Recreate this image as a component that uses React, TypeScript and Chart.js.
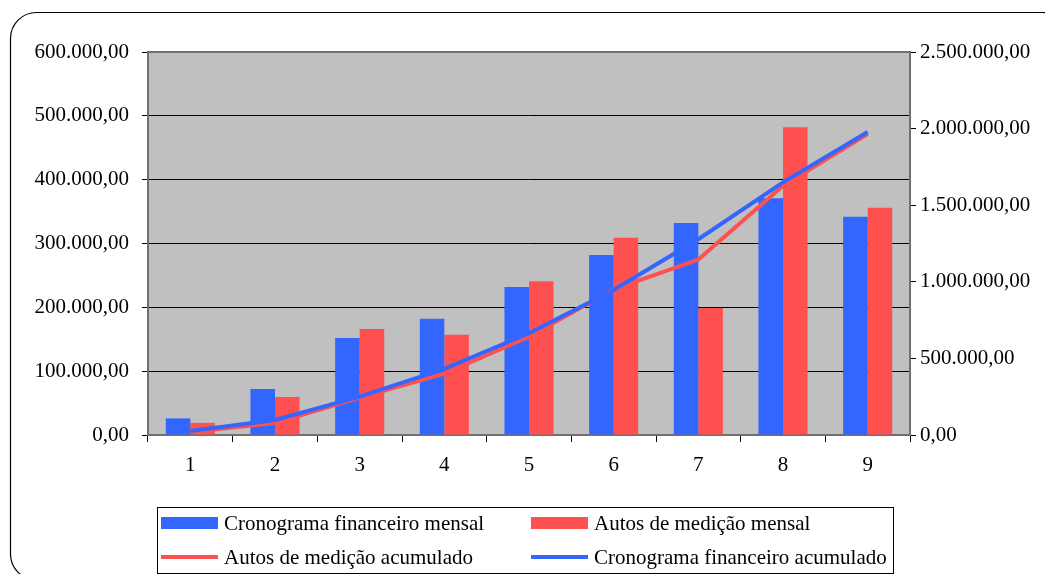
import React, { useEffect, useRef } from "react";
import { Chart, registerables } from "chart.js";

Chart.register(...registerables);

const categories = ["1", "2", "3", "4", "5", "6", "7", "8", "9"];
const cronogramaMensal = [26000, 72000, 152000, 182000, 232000, 282000, 332000, 371000, 342000];
const autosMensal = [19000, 59500, 166000, 157000, 241000, 309000, 199000, 482000, 356000];
const autosAcumulado = [19000, 78000, 244000, 401000, 642000, 951000, 1145000, 1627000, 1965000];
const cronogramaAcumulado = [26000, 98000, 250000, 432000, 664000, 946000, 1278000, 1649000, 1978000];

const labelsLegend = [
  "Cronograma financeiro mensal",
  "Autos de medição mensal",
  "Autos de medição acumulado",
  "Cronograma financeiro acumulado",
];

const BLUE = "#3366FF";
const RED = "#FF5050";
const FONT = "'Liberation Serif', 'Times New Roman', serif";
const FS = 21;

function fmt(v: number): string {
  const n = Math.round(v);
  const s = String(n).replace(/\B(?=(\d{3})+(?!\d))/g, ".");
  return s + ",00";
}

const framePlugin = {
  id: "frame",
  beforeDraw(chart: any) {
    const { ctx, chartArea: a } = chart;
    ctx.save();
    ctx.strokeStyle = "#000";
    ctx.lineWidth = 1.2;
    const x0 = 10.5, y0 = 12.5, x1 = 1068, y1 = 580, r = 26;
    ctx.beginPath();
    ctx.moveTo(x0 + r, y0);
    ctx.lineTo(x1 - r, y0);
    ctx.arcTo(x1, y0, x1, y0 + r, r);
    ctx.lineTo(x1, y1 - r);
    ctx.arcTo(x1, y1, x1 - r, y1, r);
    ctx.lineTo(x0 + r, y1);
    ctx.arcTo(x0, y1, x0, y1 - r, r);
    ctx.lineTo(x0, y0 + r);
    ctx.arcTo(x0, y0, x0 + r, y0, r);
    ctx.closePath();
    ctx.stroke();
    ctx.fillStyle = "#C0C0C0";
    ctx.fillRect(a.left, a.top, a.right - a.left, a.bottom - a.top);
    ctx.restore();
  },
  beforeDatasetsDraw(chart: any) {
    const { ctx, chartArea: a } = chart;
    ctx.save();
    ctx.strokeStyle = "#707070";
    ctx.lineWidth = 2;
    ctx.strokeRect(a.left, a.top, a.right - a.left, a.bottom - a.top);
    ctx.restore();
  },
  afterDraw(chart: any) {
    const { ctx } = chart;
    const ds = chart.data.datasets;
    ctx.save();
    ctx.strokeStyle = "#000";
    ctx.lineWidth = 1;
    ctx.strokeRect(157.5, 507.5, 736, 66);
    ctx.font = FS + "px " + FONT;
    ctx.textBaseline = "middle";
    ctx.textAlign = "left";
    const cols = [161, 531];
    const rows = [523, 557];
    [0, 1, 2, 3].forEach((di, k) => {
      const d = ds[di];
      const mx = cols[k % 2];
      const my = rows[Math.floor(k / 2)];
      if (d.type === "bar") {
        ctx.fillStyle = d.backgroundColor;
        ctx.fillRect(mx, my - 6, 57, 12);
      } else {
        ctx.strokeStyle = d.borderColor;
        ctx.lineWidth = 4;
        ctx.beginPath();
        ctx.moveTo(mx, my);
        ctx.lineTo(mx + 57, my);
        ctx.stroke();
      }
      ctx.fillStyle = "#000";
      ctx.fillText(d.label, mx + 63, my + 1);
    });
    ctx.restore();
  },
};

export default function App() {
  const ref = useRef<HTMLCanvasElement | null>(null);
  useEffect(() => {
    if (!ref.current) return;
    const chart = new Chart(ref.current, {
      type: "bar",
      data: {
        labels: categories,
        datasets: [
          {
            type: "bar",
            label: labelsLegend[0],
            data: cronogramaMensal,
            backgroundColor: BLUE,
            yAxisID: "y",
            order: 3,
            barPercentage: 1,
            categoryPercentage: 0.58,
          },
          {
            type: "bar",
            label: labelsLegend[1],
            data: autosMensal,
            backgroundColor: RED,
            yAxisID: "y",
            order: 3,
            barPercentage: 1,
            categoryPercentage: 0.58,
          },
          {
            type: "line",
            label: labelsLegend[2],
            data: autosAcumulado,
            borderColor: RED,
            backgroundColor: RED,
            borderWidth: 4,
            pointRadius: 0,
            tension: 0,
            yAxisID: "y1",
            order: 2,
          },
          {
            type: "line",
            label: labelsLegend[3],
            data: cronogramaAcumulado,
            borderColor: BLUE,
            backgroundColor: BLUE,
            borderWidth: 4,
            pointRadius: 0,
            tension: 0,
            yAxisID: "y1",
            order: 1,
          },
        ],
      } as any,
      options: {
        animation: false,
        responsive: false,
        maintainAspectRatio: false,
        layout: { padding: { top: 52, left: 0, right: 0, bottom: 0 } },
        plugins: {
          legend: { display: false },
          tooltip: { enabled: false },
          title: { display: false },
        },
        scales: {
          x: {
            position: "bottom",
            offset: true,
            grid: {
              offset: true,
              drawOnChartArea: false,
              drawTicks: true,
              tickLength: 7,
              color: "#000",
            },
            border: { display: true, color: "#505050", width: 2 },
            ticks: {
              color: "#000",
              font: { family: FONT, size: FS },
              padding: 11,
              maxRotation: 0,
            },
            afterFit(scale: any) {
              scale.height = 139;
            },
          } as any,
          y: {
            position: "left",
            min: 0,
            max: 600000,
            grid: {
              color: "#000",
              lineWidth: 1,
              drawTicks: true,
              tickLength: 6,
            },
            border: { display: true, color: "#505050", width: 2 },
            ticks: {
              stepSize: 100000,
              color: "#000",
              font: { family: FONT, size: FS },
              padding: 13,
              callback: (v: any) => fmt(Number(v)),
            },
            afterFit(scale: any) {
              scale.width = 148;
            },
          } as any,
          y1: {
            position: "right",
            min: 0,
            max: 2500000,
            grid: {
              drawOnChartArea: false,
              drawTicks: true,
              tickLength: 6,
              color: "#000",
            },
            border: { display: true, color: "#505050", width: 2 },
            ticks: {
              stepSize: 500000,
              color: "#000",
              font: { family: FONT, size: FS },
              padding: 4,
              callback: (v: any) => fmt(Number(v)),
            },
            afterFit(scale: any) {
              scale.width = 135;
            },
          } as any,
        },
      } as any,
      plugins: [framePlugin],
    });
    return () => chart.destroy();
  }, []);

  return (
    <div style={{ position: "absolute", left: 0, top: 0, width: 1045, height: 574, background: "#fff" }}>
      <canvas ref={ref} width={1045} height={574} style={{ width: 1045, height: 574, display: "block" }} />
    </div>
  );
}
